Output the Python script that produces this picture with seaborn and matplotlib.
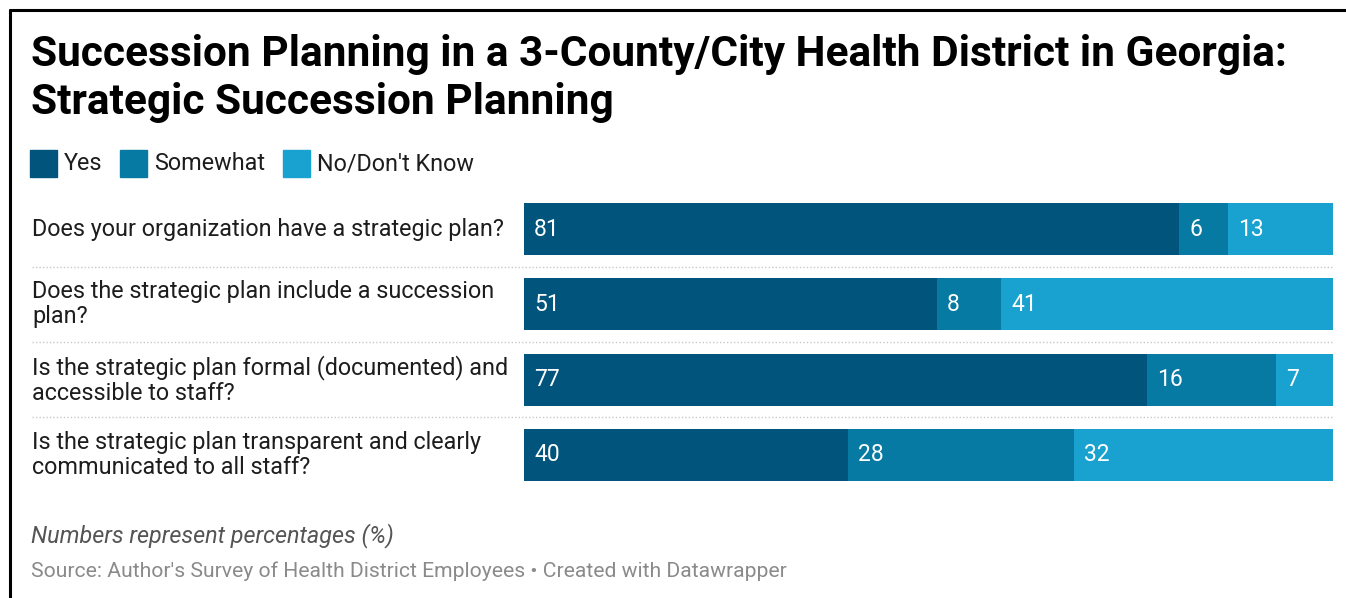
import matplotlib
matplotlib.use("Agg")
import matplotlib.pyplot as plt
from matplotlib.patches import Rectangle
from matplotlib.lines import Line2D
import matplotlib.transforms as mtransforms
import seaborn as sns
import pandas as pd

# Survey responses (% of employees)
questions = [
    "Does your organization have a strategic plan?",
    "Does the strategic plan include a succession\nplan?",
    "Is the strategic plan formal (documented) and\naccessible to staff?",
    "Is the strategic plan transparent and clearly\ncommunicated to all staff?",
]
series_names = ["Yes", "Somewhat", "No/Don't Know"]
yes = [81, 51, 77, 40]
somewhat = [6, 8, 16, 28]
no_dk = [13, 41, 7, 32]
colors = ["#01557c", "#067aa3", "#19a2cf"]

title_lines = ["Succession Planning in a 3-County/City Health District in Georgia:",
               "Strategic Succession Planning"]
note = "Numbers represent percentages (%)"
source = "Source: Author's Survey of Health District Employees \u2022 Created with Datawrapper"

df = pd.DataFrame({"question": questions, "Yes": yes,
                   "Somewhat": somewhat, "No/Don't Know": no_dk})
df["c1"] = df["Yes"]
df["c2"] = df["Yes"] + df["Somewhat"]
df["c3"] = df["c2"] + df["No/Don't Know"]

sns.set_theme(style="white")
plt.rcParams["font.family"] = ["Roboto", "DejaVu Sans"]

W, H = 1346, 598
fig = plt.figure(figsize=(W / 100, H / 100), dpi=100)
fig.patch.set_facecolor("white")


def fx(px):
    return px / W


def fy(py):
    return 1 - py / H


ax_left, ax_right = 524, 1333
ax_top, ax_bot = 191.4, 492.6
ax = fig.add_axes([fx(ax_left), fy(ax_bot), fx(ax_right - ax_left),
                   (ax_bot - ax_top) / H])

# stacked bars: draw cumulative totals back to front
for col, c in zip(["c3", "c2", "c1"], colors[::-1]):
    sns.barplot(data=df, x=col, y="question", orient="h", color=c,
                width=0.69, saturation=1, ax=ax, linewidth=0)

ax.set_xlim(0, 100)
ax.set_ylim(3.5, -0.5)
ax.set_xlabel("")
ax.set_ylabel("")
ax.set_xticks([])
ax.set_yticks([])
for s in ax.spines.values():
    s.set_visible(False)

# value labels inside each segment
for i in range(len(questions)):
    starts = [0, yes[i], yes[i] + somewhat[i]]
    vals = [yes[i], somewhat[i], no_dk[i]]
    for st, v in zip(starts, vals):
        ax.annotate(str(v), xy=(st, i), xytext=(10, 0),
                    textcoords="offset pixels", ha="left", va="center",
                    color="white", fontsize=16.5)

# question labels, left aligned
trans = mtransforms.blended_transform_factory(fig.transFigure, ax.transData)
for i, q in enumerate(questions):
    ax.text(fx(32), i, q, transform=trans, ha="left", va="center",
            fontsize=16.8, color="#1d1d1d", linespacing=1.12)

# dotted row separators
for yy in [0.5, 1.5, 2.5]:
    ax.plot([fx(32), fx(ax_right)], [yy, yy], transform=trans,
            color="#c8c8c8", linestyle=(0, (1, 1.5)), linewidth=1,
            clip_on=False)

# title, two lines
for line, base in zip(title_lines, [66, 114]):
    fig.text(fx(31), fy(base), line, ha="left", va="baseline", fontsize=30.5,
             fontweight="bold", color="#000000")

# legend
leg_x = [30, 120, 283]
for x0, name, c in zip(leg_x, series_names, colors):
    fig.patches.append(Rectangle((fx(x0), fy(177)), fx(27), 27 / H,
                                 transform=fig.transFigure, color=c))
    fig.text(fx(x0 + 34), fy(164), name, ha="left", va="center",
             fontsize=16.8, color="#1d1d1d")

# notes
fig.text(fx(31), fy(536), note, ha="left", va="center", fontsize=16.8,
         style="italic", color="#555555")
fig.text(fx(31), fy(571), source, ha="left", va="center", fontsize=15.2,
         color="#8a8a8a")

# frame on top and left edges
fig.add_artist(Line2D([fx(10), fx(10)], [0, fy(10)], color="black",
                      linewidth=2.2, transform=fig.transFigure))
fig.add_artist(Line2D([fx(10), 1], [fy(10), fy(10)], color="black",
                      linewidth=2.2, transform=fig.transFigure))

fig.savefig("out.png", dpi=100, facecolor="white")
